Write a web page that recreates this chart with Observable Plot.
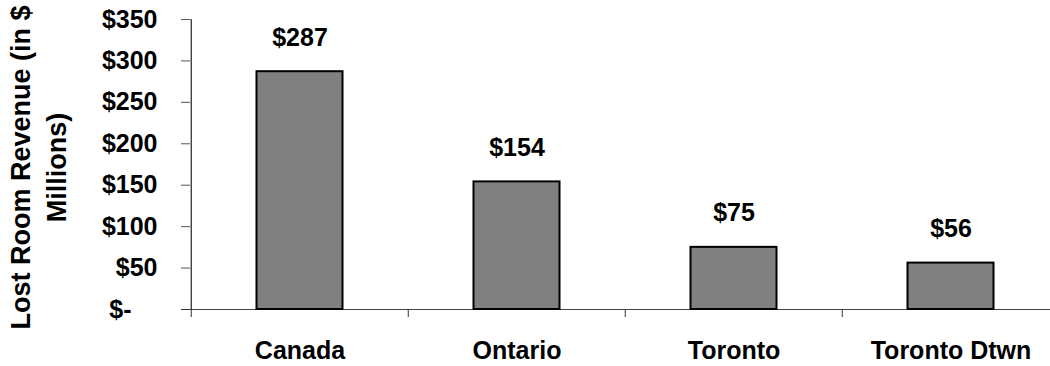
<!DOCTYPE html>
<html>
<head>
<meta charset="utf-8">
<script src="https://cdn.jsdelivr.net/npm/d3@7"></script>
<script src="https://cdn.jsdelivr.net/npm/@observablehq/plot@0.6"></script>
<style>
  html, body { margin: 0; padding: 0; background: #fff; }
  #chart { width: 1050px; height: 366px; }
</style>
</head>
<body>
<div id="chart"></div>
<script>
// Lost room revenue by market, in $ millions
const regions = ["Canada", "Ontario", "Toronto", "Toronto Dtwn"];
const revenue = [287, 154, 75, 56];
const yTicks = [50, 100, 150, 200, 250, 300, 350];
const yZeroTick = [0];
const yTitle = "Lost Room Revenue (in $\nMillions)";

const data = regions.map((region, i) => ({region, value: revenue[i]}));

const width = 1050;
const height = 366;
const marginLeft = 190;
const marginRight = -10;
const bandwidth = (width - marginLeft - marginRight) / regions.length;
const font = "'Liberation Sans', Arial, sans-serif";

const chart = Plot.plot({
  width,
  height,
  marginLeft,
  marginRight,
  marginTop: 19,
  marginBottom: 57,
  style: {fontFamily: font, background: "#fff", overflow: "visible", color: "#000"},
  x: {type: "band", domain: regions, padding: 0, axis: null},
  y: {domain: [0, 350], axis: null},
  marks: [
    // horizontal baseline
    Plot.ruleY([0], {stroke: "#444", strokeWidth: 1.2}),
    // bars
    Plot.barY(data, {
      x: "region", y: "value",
      fill: "#808080", stroke: "#000", strokeWidth: 2,
      insetLeft: 65.5, insetRight: 65.5
    }),
    // value labels above bars
    Plot.text(data, {
      x: "region", y: "value", text: d => "$" + d.value,
      dy: -34, fontSize: 25, fontWeight: "bold", fill: "#000"
    }),
    // vertical axis line at the left edge of the first band
    Plot.ruleX([regions[0]], {dx: -bandwidth / 2, stroke: "#222", strokeWidth: 1.2}),
    // y axis ticks and labels
    Plot.axisY({
      ticks: yTicks, tickFormat: d => "$" + d, label: null,
      tickSize: 9, tickPadding: 24, stroke: "#555",
      fontSize: 25, fontWeight: "bold", fill: "#000"
    }),
    Plot.axisY({
      ticks: yZeroTick, tickFormat: () => "$-", label: null,
      tickSize: 9, tickPadding: 50, stroke: "#333",
      fontSize: 25, fontWeight: "bold", fill: "#000"
    }),
    // category separators below the baseline
    Plot.axisX({
      ticks: regions, text: null, label: null, tickSize: 8,
      dx: -bandwidth / 2, stroke: "#333"
    }),
    // category labels
    Plot.axisX({
      ticks: regions, tickSize: 0, tickPadding: 32, label: null,
      fontSize: 25, fontWeight: "bold", fill: "#000"
    }),
    // rotated y axis title
    Plot.text([yTitle], {
      frameAnchor: "left", textAnchor: "middle", text: d => d, rotate: -90,
      lineHeight: 1.35, dx: -154, dy: 3, fontSize: 27, fontWeight: "bold", fill: "#000"
    })
  ]
});

document.getElementById("chart").appendChild(chart);
</script>
</body>
</html>
